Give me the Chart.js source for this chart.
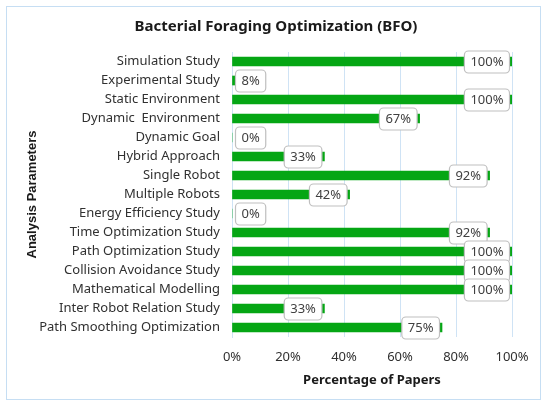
<!DOCTYPE html>
<html>
<head>
<meta charset="utf-8">
<script src="https://cdn.jsdelivr.net/npm/chart.js@4"></script>
<style>
  html, body { margin: 0; padding: 0; background: #fff; }
  #wrap { width: 550px; height: 407px; }
</style>
</head>
<body>
<div id="wrap"><canvas id="bfo-chart" width="550" height="407"></canvas></div>
<script>
const categories = [
  'Simulation Study',
  'Experimental Study',
  'Static Environment',
  'Dynamic  Environment',
  'Dynamic Goal',
  'Hybrid Approach',
  'Single Robot',
  'Multiple Robots',
  'Energy Efficiency Study',
  'Time Optimization Study',
  'Path Optimization Study',
  'Collision Avoidance Study',
  'Mathematical Modelling',
  'Inter Robot Relation Study',
  'Path Smoothing Optimization'
];
const percentages = [100, 8, 100, 67, 0, 33, 92, 42, 0, 92, 100, 100, 100, 33, 75];
const xTicks = [0, 20, 40, 60, 80, 100];
const chartTitle = 'Bacterial Foraging Optimization (BFO)';

const fontFamily = "'Noto Sans', sans-serif";
const textColor = '#303030';

// outer frame and centred title (title centred on the whole canvas)
const framePlugin = {
  id: 'frame',
  beforeDraw(chart) {
    const ctx = chart.ctx;
    ctx.save();
    ctx.fillStyle = '#ffffff';
    ctx.fillRect(0, 0, chart.width, chart.height);
    ctx.strokeStyle = '#c6def3';
    ctx.lineWidth = 1;
    ctx.strokeRect(6.5, 6.5, 534, 393);
    ctx.fillStyle = '#1a1a1a';
    ctx.font = 'bold 15px ' + fontFamily;
    ctx.textAlign = 'center';
    ctx.textBaseline = 'middle';
    ctx.fillText(chartTitle, chart.width / 2 + 1, 27);
    ctx.restore();
  }
};

// boxed value labels at the inside end of each bar
const valueBoxPlugin = {
  id: 'valueBoxes',
  afterDatasetsDraw(chart) {
    const ctx = chart.ctx;
    const meta = chart.getDatasetMeta(0);
    const area = chart.chartArea;
    ctx.save();
    ctx.font = '13px ' + fontFamily;
    ctx.textBaseline = 'middle';
    ctx.textAlign = 'center';
    meta.data.forEach(function(bar, i) {
      const text = percentages[i] + '%';
      const w = ctx.measureText(text).width + 12;
      const h = 22;
      let left = bar.x - 3 - w;
      if (left < area.left + 3) left = area.left + 3;
      const top = bar.y - h / 2;
      ctx.beginPath();
      ctx.roundRect(left + 0.5, top + 0.5, w, h, 4);
      ctx.fillStyle = '#ffffff';
      ctx.fill();
      ctx.strokeStyle = '#bfbfbf';
      ctx.lineWidth = 1.2;
      ctx.stroke();
      ctx.fillStyle = '#404040';
      ctx.fillText(text, left + w / 2 + 0.5, bar.y + 1);
    });
    ctx.restore();
  }
};

new Chart(document.getElementById('bfo-chart').getContext('2d'), {
  type: 'bar',
  data: {
    labels: categories,
    datasets: [{
      label: 'Percentage of Papers',
      data: percentages,
      backgroundColor: '#05a614',
      borderWidth: 0,
      barThickness: 9
    }]
  },
  options: {
    indexAxis: 'y',
    responsive: false,
    animation: false,
    layout: { padding: { left: 8, right: 38, top: 52, bottom: 19 } },
    plugins: {
      legend: { display: false },
      tooltip: { enabled: false },
      title: { display: false }
    },
    scales: {
      x: {
        min: 0,
        max: 100,
        afterBuildTicks(scale) {
          scale.ticks = xTicks.map(v => ({ value: v }));
        },
        grid: { color: '#cfe3f5', drawTicks: false, lineWidth: 1 },
        border: { display: false },
        ticks: {
          color: textColor,
          font: { family: fontFamily, size: 13 },
          padding: 12,
          callback: v => v + '%'
        },
        title: {
          display: true,
          text: 'Percentage of Papers',
          color: '#1a1a1a',
          font: { family: fontFamily, size: 13, weight: 'bold' },
          padding: { top: 6, bottom: 0 }
        },
        afterFit(scale) { scale.height = 51; }
      },
      y: {
        grid: { display: false, drawTicks: false },
        border: { display: true, color: '#cfe3f5' },
        ticks: {
          color: textColor,
          font: { family: fontFamily, size: 13 },
          padding: 12
        },
        title: {
          display: true,
          text: 'Analysis Parameters',
          color: '#1a1a1a',
          font: { family: "'Liberation Sans', Arial, sans-serif", size: 13, weight: 'bold' },
          padding: { top: 17, bottom: 0 }
        },
        afterFit(scale) { scale.width = 224; }
      }
    }
  },
  plugins: [framePlugin, valueBoxPlugin]
});
</script>
</body>
</html>
